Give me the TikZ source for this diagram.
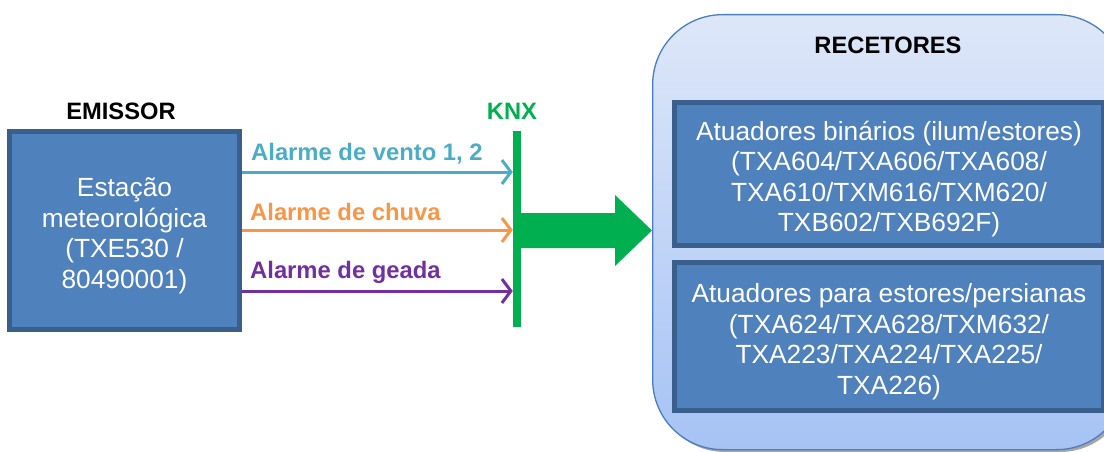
\documentclass[tikz,border=0pt]{standalone}
\usepackage{fontspec}
\setmainfont{Liberation Sans}
\usetikzlibrary{arrows.meta}
\definecolor{boxfill}{HTML}{4F81BD}
\definecolor{boxline}{HTML}{3A5F8D}
\definecolor{knxgreen}{HTML}{00B050}
\definecolor{ventoc}{HTML}{4BACC6}
\definecolor{chuvac}{HTML}{F79646}
\definecolor{geadac}{HTML}{7030A0}
\definecolor{contop}{HTML}{DEE7F9}
\definecolor{conbot}{HTML}{A6C3F4}
\definecolor{conline}{HTML}{4A7EC0}
\newcommand{\firstlinestrut}{\rule{0pt}{29pt}}
\tikzset{
  bluebox/.style={draw=boxline, fill=boxfill, line width=5pt, text=white, align=center,
    font=\fontsize{26.3}{30.5}\selectfont, inner sep=0pt},
  title/.style={font=\fontsize{23.7}{26}\selectfont\bfseries},
  alarm/.style={line width=3pt, -{Straight Barb[length=9pt,width=24pt,line width=3pt]}},
  alarmlabel/.style={font=\fontsize{23.8}{26}\selectfont\bfseries, anchor=west, inner sep=0pt},
}
\begin{document}
\begin{tikzpicture}[x=1pt,y=-1pt]
\useasboundingbox (0,0) rectangle (1104,452);
% container shadow
\fill[black!35, rounded corners=70pt] (655,18) rectangle (1130,452);
% container
\node[draw=conline, line width=1.3pt, rounded corners=70pt, top color=contop, bottom color=conbot,
  minimum width=474pt, minimum height=435pt, anchor=north west, inner sep=0pt] (rec) at (652,14) {};
\node[title] (rectitle) at (888,45) {RECETORES};
\node[bluebox, minimum width=429pt, minimum height=143pt] (bin) at (889,174) {\firstlinestrut Atuadores binários (ilum/estores)\\(TXA604/TXA606/TXA608/\\TXA610/TXM616/TXM620/\\TXB602/TXB692F)};
\node[bluebox, minimum width=429pt, minimum height=148pt] (pers) at (889,336.5) {\firstlinestrut Atuadores para estores/persianas\\(TXA624/TXA628/TXM632/\\TXA223/TXA224/TXA225/\\TXA226)};
% emitter
\node[title] (emtitle) at (121,111) {EMISSOR};
\node[bluebox, minimum width=230pt, minimum height=198pt] (emit) at (124.5,230.5) {\firstlinestrut Estação\\meteorológica\\(TXE530 /\\80490001)};
% KNX bus
\node[title, text=knxgreen] (knxtitle) at (512,111) {KNX};
\node[fill=knxgreen, minimum width=8pt, minimum height=196pt, inner sep=0pt] (knx) at (517,229) {};
% alarms
\draw[alarm, draw=ventoc] (emit.east |- 0,172) -- (knx.west |- 0,172);
\draw[alarm, draw=chuvac] (emit.east |- 0,230) -- (knx.west |- 0,230);
\draw[alarm, draw=geadac] (emit.east |- 0,291) -- (knx.west |- 0,291);
\node[alarmlabel, text=ventoc] (lv) at (251,154) {Alarme de vento 1, 2};
\node[alarmlabel, text=chuvac] (lc) at (250,212) {Alarme de chuva};
\node[alarmlabel, text=geadac] (lg) at (250,272) {Alarme de geada};
% big arrow
\fill[knxgreen] (knx.east |- 0,213) -- (615,213) -- (615,195) -- (rec.west |- 0,230.5) -- (615,266) -- (615,248) -- (knx.east |- 0,248) -- cycle;
\end{tikzpicture}
\end{document}
